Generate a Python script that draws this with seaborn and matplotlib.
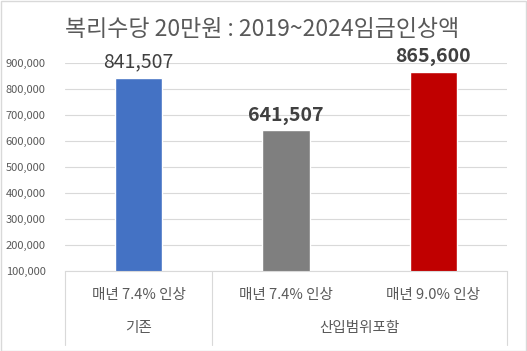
import matplotlib
matplotlib.use('Agg')
import matplotlib.pyplot as plt
import matplotlib.transforms as mtrans
import numpy as np
import pandas as pd
import seaborn as sns

sns.set_style('white')
plt.rcParams['font.family'] = ['Noto Sans CJK KR', 'DejaVu Sans']
plt.rcParams['axes.unicode_minus'] = False

title = '복리수당 20만원 : 2019~2024임금인상액'
sub_labels = ['매년 7.4% 인상', '매년 7.4% 인상', '매년 9.0% 인상']
group_labels = ['기존', '산입범위포함']
group_sizes = [1, 2]
values = [841507, 641507, 865600]
colors = ['#4472C4', '#7F7F7F', '#C00000']
label_bold = [False, True, True]

df = pd.DataFrame({'pos': [str(i) for i in range(len(values))], 'value': values})

W, H = 527, 351
fig = plt.figure(figsize=(W / 100, H / 100), dpi=100)
ax = fig.add_axes([65 / W, (H - 271) / H, 442 / W, 208 / H])

sns.barplot(data=df, x='pos', y='value', hue='pos', palette=colors,
            width=0.32, legend=False, ax=ax, saturation=1)

ax.set_ylim(100000, 900000)
ax.set_xlim(-0.5, len(values) - 0.5)
ax.set_yticks(np.arange(100000, 900001, 100000))
ax.set_yticklabels([f'{v:,}' for v in range(100000, 900001, 100000)],
                   fontsize=8, color='#595959')
ax.tick_params(axis='y', length=0, pad=14)
ax.set_xticks([])
ax.set_xlabel('')
ax.set_ylabel('')
ax.yaxis.grid(True, color='#D9D9D9', linewidth=0.8)
ax.set_axisbelow(True)
for s in ['top', 'right', 'left']:
    ax.spines[s].set_visible(False)
ax.spines['bottom'].set_color('#D9D9D9')

# data labels
for i, (v, b) in enumerate(zip(values, label_bold)):
    ax.annotate(f'{v:,}', (i, v), xytext=(0, 4), textcoords='offset points',
                ha='center', va='bottom', fontsize=14,
                fontweight='bold' if b else 'normal',
                color='#404040')

# multi-level category axis
tr = mtrans.blended_transform_factory(ax.transData, ax.transAxes)
ax_h = 208
y_sub = -(295 - 271) / ax_h
y_grp = -(328 - 271) / ax_h
y_bot = -(345 - 271) / ax_h
for i, lab in enumerate(sub_labels):
    ax.text(i, y_sub, lab, transform=tr, ha='center', va='center',
            fontsize=10.5, color='#595959')
start = 0
edges = [-0.5]
for lab, n in zip(group_labels, group_sizes):
    mid = start + (n - 1) / 2
    ax.text(mid, y_grp, lab, transform=tr, ha='center', va='center',
            fontsize=10.5, color='#595959')
    start += n
    edges.append(start - 0.5)
for e in edges:
    ax.plot([e, e], [0, y_bot], transform=tr, color='#D9D9D9',
            linewidth=0.8, clip_on=False)

fig.text(65 / W, 1 - 29 / H, title, ha='left', va='center',
         fontsize=16.5, color='#595959')

fig.patches.append(plt.Rectangle((0.5 / W, 0.5 / H), 1 - 1.5 / W, 1 - 1.5 / H,
                                 transform=fig.transFigure, fill=False,
                                 edgecolor='#D9D9D9', linewidth=1))

fig.savefig('out.png', dpi=100)
